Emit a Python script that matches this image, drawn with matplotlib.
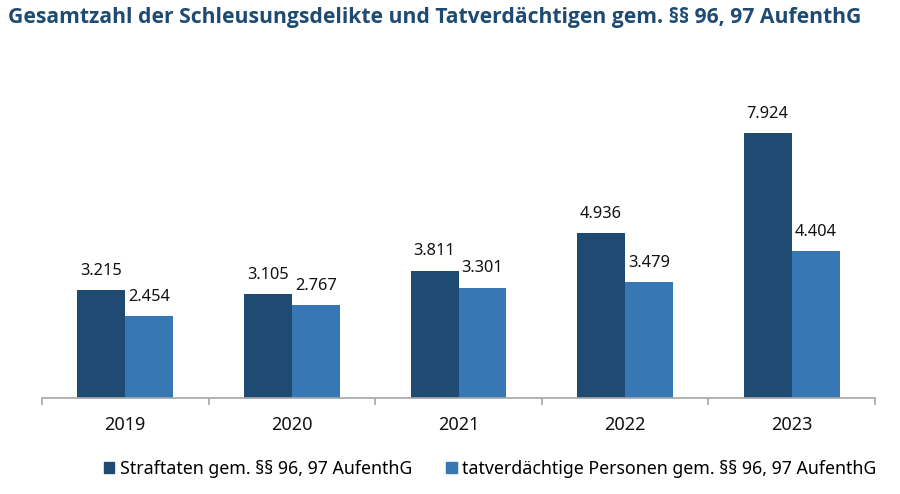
import numpy as np
import matplotlib.pyplot as plt
from matplotlib.patches import Patch

years = ["2019", "2020", "2021", "2022", "2023"]
straftaten = [3215, 3105, 3811, 4936, 7924]
tatverdaechtige = [2454, 2767, 3301, 3479, 4404]
series_names = ["Straftaten gem. §§ 96, 97 AufenthG",
                "tatverdächtige Personen gem. §§ 96, 97 AufenthG"]

dark = "#1f4a72"
light = "#3778b4"

plt.rcParams['font.family'] = ['Noto Sans', 'DejaVu Sans']

fig = plt.figure(figsize=(9, 4.94), dpi=100)
ax = fig.add_axes([42 / 900, 96 / 494, 833 / 900, 301 / 494])

x = np.arange(len(years))
w = 0.288
b1 = ax.bar(x - w / 2, straftaten, w, color=dark)
b2 = ax.bar(x + w / 2, tatverdaechtige, w, color=light)

def fmt(v):
    return f"{v:,}".replace(",", ".")

for bars, vals in ((b1, straftaten), (b2, tatverdaechtige)):
    for r, v in zip(bars, vals):
        ax.annotate(fmt(v), (r.get_x() + r.get_width() / 2, v),
                    xytext=(0, 8), textcoords="offset points",
                    ha="center", va="bottom", fontsize=11.8, color="#111111")

ax.set_xlim(-0.5, len(years) - 0.5)
ax.set_ylim(0, 9000)
for s in ["top", "right", "left"]:
    ax.spines[s].set_visible(False)
ax.spines["bottom"].set_color("#a6a6a6")
ax.spines["bottom"].set_linewidth(1.2)
ax.set_yticks([])
ax.set_xticks(np.arange(-0.5, len(years)), minor=False)
ax.set_xticklabels([])
ax.tick_params(axis="x", which="major", length=5, color="#a6a6a6", width=1.2)
ax.set_xticks(x, minor=True)
ax.set_xticklabels(years, minor=True, fontsize=13, color="#111111")
ax.tick_params(axis="x", which="minor", length=0, pad=13)

fig.text(8 / 900, 1 - 18 / 494,
         "Gesamtzahl der Schleusungsdelikte und Tatverdächtigen gem. §§ 96, 97 AufenthG",
         fontsize=15.2, fontweight="bold", color=dark, va="center", ha="left",
         family=["Liberation Sans Narrow", "Open Sans", "DejaVu Sans"])

handles = [Patch(color=dark), Patch(color=light)]
fig.legend(handles, series_names, loc="center", bbox_to_anchor=(490 / 900, 1 - 469 / 494),
           ncol=2, frameon=False, fontsize=12.8, handlelength=0.6, handleheight=0.6,
           handletextpad=0.3, columnspacing=1.9)

fig.savefig("out.png", dpi=100)
